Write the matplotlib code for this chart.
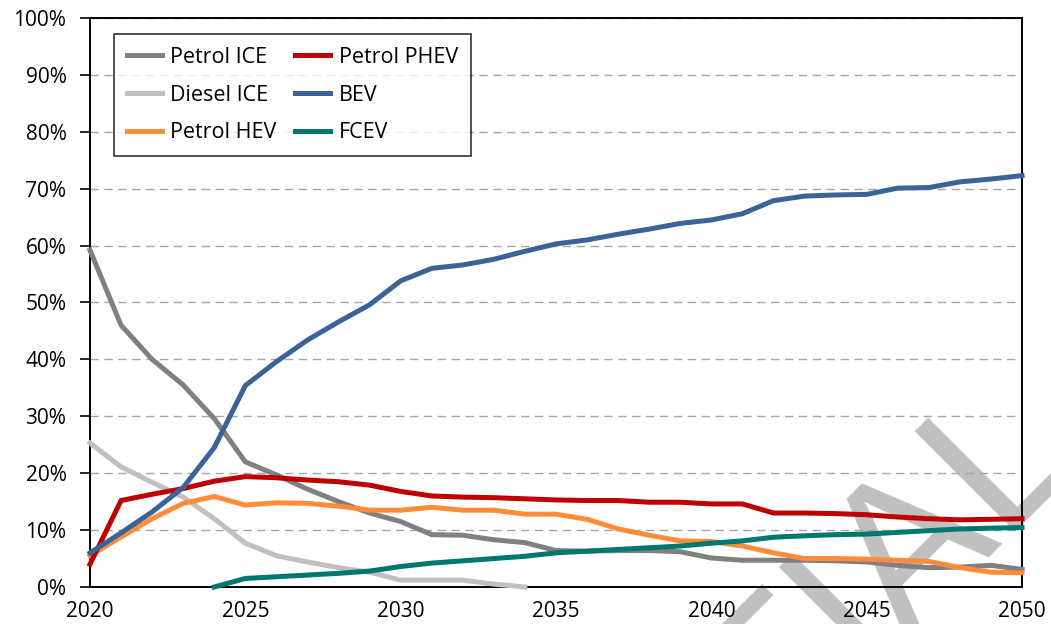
import numpy as np
import matplotlib
matplotlib.use("Agg")
import matplotlib.pyplot as plt
from matplotlib.ticker import MultipleLocator, FuncFormatter

plt.rcParams['font.family'] = ['Open Sans', 'DejaVu Sans']

nan = np.nan
years = list(range(2020, 2051))
series_names = ["Petrol ICE", "Diesel ICE", "Petrol HEV", "Petrol PHEV", "BEV", "FCEV"]
petrol_ice = [59.2, 46.0, 40.0, 35.5, 29.6, 22.0, 19.7, 17.2, 15.0, 13.0, 11.5, 9.2, 9.1, 8.3, 7.8,
              6.4, 6.3, 6.4, 6.4, 6.2, 5.1, 4.7, 4.7, 4.7, 4.6, 4.4, 3.8, 3.4, 3.5, 3.8, 3.1]
diesel_ice = [25.3, 21.1, 18.4, 15.8, 12.0, 7.7, 5.5, 4.4, 3.4, 2.6, 1.2, 1.2, 1.2, 0.5, 0.0,
              nan, nan, nan, nan, nan, nan, nan, nan, nan, nan, nan, nan, nan, nan, nan, nan]
petrol_hev = [5.5, 8.8, 12.0, 14.7, 15.9, 14.4, 14.8, 14.7, 14.2, 13.5, 13.5, 14.0, 13.5, 13.5, 12.8,
              12.8, 11.9, 10.2, 9.1, 8.1, 8.0, 7.2, 6.0, 5.0, 5.0, 4.9, 4.7, 4.5, 3.4, 2.6, 2.5]
petrol_phev = [4.0, 15.2, 16.3, 17.3, 18.6, 19.4, 19.2, 18.8, 18.5, 17.9, 16.8, 16.0, 15.8, 15.7, 15.5,
               15.3, 15.2, 15.2, 14.9, 14.9, 14.6, 14.6, 13.0, 13.0, 12.9, 12.7, 12.3, 12.0, 11.8, 11.9, 12.0]
bev = [6.0, 9.5, 13.2, 17.5, 24.5, 35.4, 39.6, 43.4, 46.6, 49.6, 53.8, 56.0, 56.6, 57.6, 59.0,
       60.3, 61.0, 62.0, 62.9, 63.9, 64.5, 65.6, 67.9, 68.7, 68.9, 69.0, 70.1, 70.2, 71.2, 71.7, 72.3]
fcev = [nan, nan, nan, nan, 0.0, 1.5, 1.8, 2.1, 2.4, 2.8, 3.6, 4.2, 4.6, 5.0, 5.4,
        6.0, 6.3, 6.6, 6.9, 7.2, 7.7, 8.1, 8.75, 9.0, 9.2, 9.3, 9.6, 9.9, 10.2, 10.35, 10.45]
colors = ["#808080", "#C0C0C0", "#FF8C3A", "#C00000", "#3A6399", "#00786C"]
x_ticks = [2020, 2025, 2030, 2035, 2040, 2045, 2050]
watermark = "CONFIDENTIAL"

W, H = 1051, 624
fig = plt.figure(figsize=(W / 100, H / 100), dpi=100)
fig.patch.set_facecolor("white")

# watermark behind the chart (large rotated text, mostly outside the canvas)
fig.text(549 / W, 1 - 988 / H, watermark, rotation=45, rotation_mode='anchor',
         ha='center', va='baseline', fontsize=148, color="#C0C0C0", zorder=-1,
         family=['Liberation Sans', 'DejaVu Sans'])

ax = fig.add_axes([90 / W, 1 - 587 / H, (1022 - 90) / W, (587 - 18) / H])
ax.set_facecolor("none")

all_series = [petrol_ice, diesel_ice, petrol_hev, petrol_phev, bev, fcev]
for name, vals, c in zip(series_names, all_series, colors):
    ax.plot(years, np.array(vals) / 100.0, color=c, lw=3.6, label=name, clip_on=False,
            solid_joinstyle='miter', zorder=3)

ax.set_xlim(2020, 2050)
ax.set_ylim(0, 1.0)
ax.yaxis.set_major_locator(MultipleLocator(0.1))
ax.yaxis.set_major_formatter(FuncFormatter(lambda v, p: f"{v*100:.0f}%"))
ax.set_xticks(x_ticks)
ax.set_xticklabels([str(t) for t in x_ticks])
ax.grid(axis='y', color="#A6A6A6", linestyle=(0, (6, 4)), lw=1.0, zorder=1)
ax.set_axisbelow(True)
for s in ax.spines.values():
    s.set_color("black")
    s.set_linewidth(1.4)
    s.set_zorder(2.5)
ax.tick_params(axis='y', direction='out', length=7, width=1.2, labelsize=15, pad=10)
ax.tick_params(axis='x', length=0, labelsize=15, pad=10)

leg = ax.legend(loc='upper left', bbox_to_anchor=(114 / W, 1 - 34 / H),
                bbox_transform=fig.transFigure, ncol=2, fontsize=15.5, frameon=True,
                fancybox=False, edgecolor="black", handlelength=1.62, handletextpad=0.4,
                columnspacing=0.85, labelspacing=0.78, borderpad=0.6, borderaxespad=0)
leg.get_frame().set_linewidth(1.2)
for h in leg.get_lines():
    h.set_linewidth(3.6)

fig.savefig("out.png", dpi=100, facecolor="white")
